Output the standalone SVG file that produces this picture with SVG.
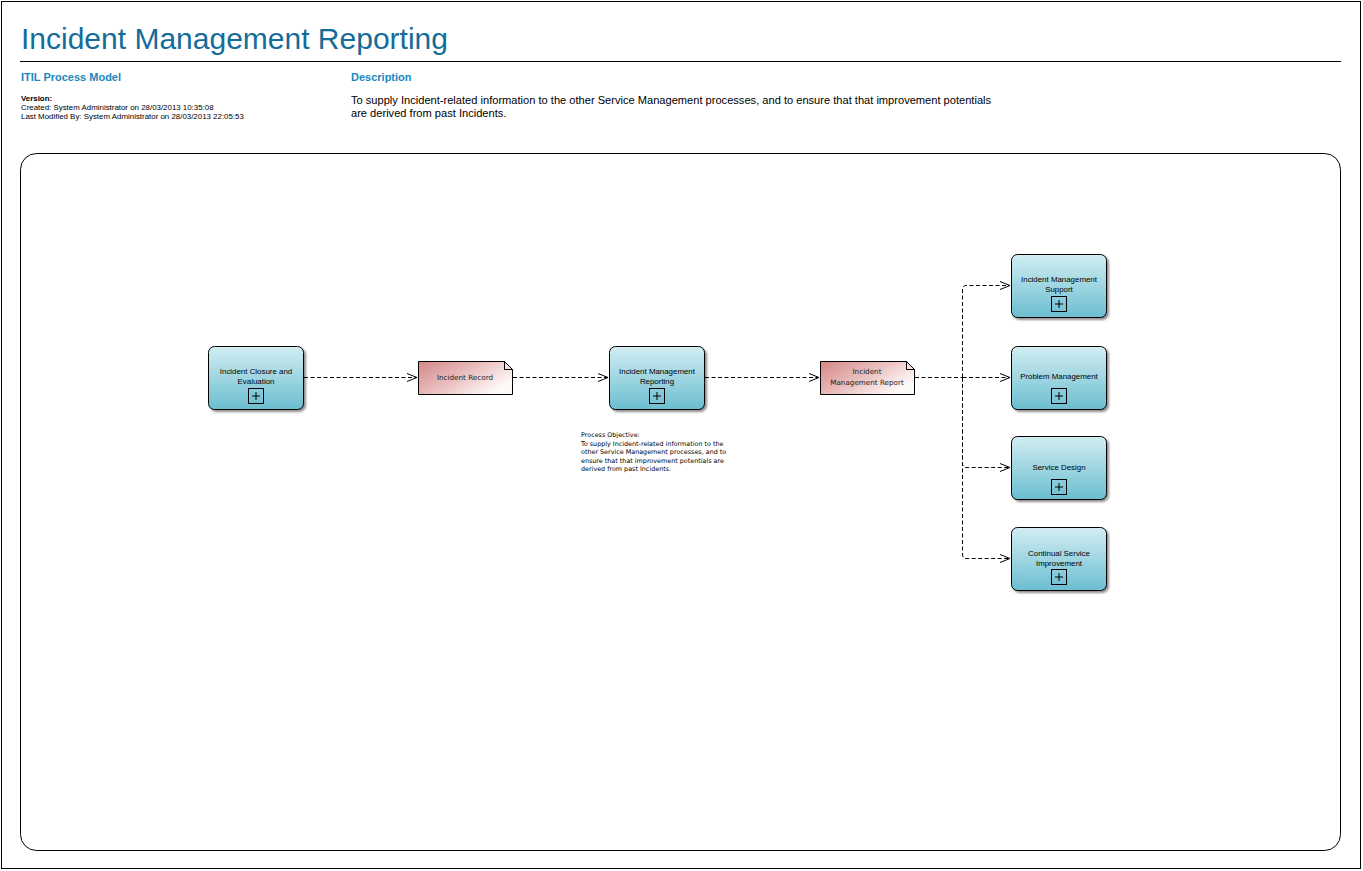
<svg xmlns="http://www.w3.org/2000/svg" width="1363" height="871" viewBox="0 0 1363 871">
  <defs>
    <linearGradient id="procFill" x1="0" y1="0" x2="0" y2="1">
      <stop offset="0" stop-color="#d2edf2"/>
      <stop offset="1" stop-color="#6bbed1"/>
    </linearGradient>
    <linearGradient id="dataFill" x1="0" y1="0" x2="1" y2="0.6">
      <stop offset="0" stop-color="#d48686"/>
      <stop offset="0.55" stop-color="#ebc2c2"/>
      <stop offset="1" stop-color="#fffafa"/>
    </linearGradient>
    <marker id="openArrow" markerWidth="12" markerHeight="10" refX="11" refY="5" orient="auto" markerUnits="userSpaceOnUse">
      <path d="M1,1 L11,5 L1,9" fill="none" stroke="#000" stroke-width="1"/>
    </marker>
    <filter id="shadow" x="-10%" y="-10%" width="130%" height="130%">
      <feGaussianBlur in="SourceAlpha" stdDeviation="1.2"/>
      <feOffset dx="2" dy="2" result="b"/>
      <feComponentTransfer><feFuncA type="linear" slope="0.45"/></feComponentTransfer>
      <feMerge><feMergeNode/><feMergeNode in="SourceGraphic"/></feMerge>
    </filter>
  </defs>
  <style>
    .hdr { font-family: "Liberation Sans", Arial, sans-serif; }
    .title { font-size: 30px; fill: #146c99; }
    .sub { font-size: 11px; font-weight: bold; fill: #1a87bd; }
    .meta { font-size: 7.9px; fill: #000; }
    .desc { font-size: 11.1px; fill: #000; }
    .proc { fill: url(#procFill); stroke: #000; stroke-width: 1; filter: url(#shadow); }
    .data { fill: url(#dataFill); stroke: #000; stroke-width: 1; }
    .fold { fill: #f3e0e0; stroke: #000; stroke-width: 1; }
    .plus { fill: none; stroke: #000; stroke-width: 1; }
    .lbl { font-family: "Liberation Sans", Arial, sans-serif; font-size: 7.9px; fill: #000; text-anchor: middle; }
    .dlbl { font-family: "DejaVu Sans", "Liberation Sans", sans-serif; font-size: 7.2px; fill: #222; text-anchor: middle; }
    .note { font-family: "DejaVu Sans", "Liberation Sans", sans-serif; font-size: 6.4px; fill: #000; }
    .conn { fill: none; stroke: #000; stroke-width: 1; stroke-dasharray: 4 2.5; }
  </style>

  <rect x="0" y="0" width="1363" height="871" fill="#fff"/>
  <rect x="1.5" y="1.5" width="1359" height="867" fill="none" stroke="#000" stroke-width="1"/>

  <!-- header -->
  <g id="header" class="hdr">
    <text x="21" y="49" class="title hdr">Incident Management Reporting</text>
    <line x1="20" y1="61.5" x2="1341" y2="61.5" stroke="#000" stroke-width="1"/>
    <text x="21" y="81" class="sub hdr">ITIL Process Model</text>
    <text x="21" y="101" class="meta hdr" font-weight="bold">Version:</text>
    <text x="21" y="110" class="meta hdr">Created: System Administrator on 28/03/2013 10:35:08</text>
    <text x="21" y="119" class="meta hdr">Last Modified By: System Administrator on 28/03/2013 22:05:53</text>
    <text x="351" y="81" class="sub hdr">Description</text>
    <text x="351" y="104" class="desc hdr">To supply Incident-related information to the other Service Management processes, and to ensure that that improvement potentials</text>
    <text x="351" y="117" class="desc hdr">are derived from past Incidents.</text>
  </g>

  <!-- diagram frame -->
  <rect id="frame" x="20.5" y="153.5" width="1320" height="697" rx="16" ry="16" fill="none" stroke="#000" stroke-width="1"/>

  <!-- connectors -->
  <g id="connectors">
    <path class="conn" d="M304,377.5 H417" marker-end="url(#openArrow)"/>
    <path class="conn" d="M513,377.5 H608" marker-end="url(#openArrow)"/>
    <path class="conn" d="M705,377.5 H819" marker-end="url(#openArrow)"/>
    <path class="conn" d="M915,377.5 H962.5"/>
    <path class="conn" d="M962.5,377.5 V289 Q962.5,285.5 966,285.5 H1010" marker-end="url(#openArrow)"/>
    <path class="conn" d="M962.5,377.5 H1010" marker-end="url(#openArrow)"/>
    <path class="conn" d="M962.5,377.5 V463 Q962.5,467.5 966,467.5 H1010" marker-end="url(#openArrow)"/>
    <path class="conn" d="M962.5,377.5 V554 Q962.5,558.5 966,558.5 H1010" marker-end="url(#openArrow)"/>
  </g>

  <!-- process nodes -->
  <g id="node-closure">
    <rect class="proc" x="208.5" y="346.5" width="95" height="63" rx="6" ry="6"/>
    <text class="lbl" x="256" y="374">Incident Closure and</text>
    <text class="lbl" x="256" y="384">Evaluation</text>
    <rect class="plus" x="248.5" y="388.5" width="15" height="15"/>
    <path d="M252,396 H260 M256,392 V400" stroke="#000" stroke-width="1"/>
  </g>

  <g id="node-incident-record">
    <path class="data" d="M418.5,361.5 H504.5 L512.5,369.5 V394.5 H418.5 Z"/>
    <path class="fold" d="M504.5,361.5 V369.5 H512.5 Z"/>
    <text class="dlbl" x="465" y="380">Incident Record</text>
  </g>

  <g id="node-reporting">
    <rect class="proc" x="609.5" y="346.5" width="95" height="63" rx="6" ry="6"/>
    <text class="lbl" x="657" y="374">Incident Management</text>
    <text class="lbl" x="657" y="384">Reporting</text>
    <rect class="plus" x="649.5" y="388.5" width="15" height="15"/>
    <path d="M653,396 H661 M657,392 V400" stroke="#000" stroke-width="1"/>
  </g>

  <g id="note-objective">
    <text class="note" x="581" y="437">Process Objective:</text>
    <text class="note" x="581" y="445.5">To supply Incident-related information to the</text>
    <text class="note" x="581" y="454">other Service Management processes, and to</text>
    <text class="note" x="581" y="462.5">ensure that that improvement potentials are</text>
    <text class="note" x="581" y="471">derived from past Incidents.</text>
  </g>

  <g id="node-report">
    <path class="data" d="M820.5,361.5 H906.5 L914.5,369.5 V394.5 H820.5 Z"/>
    <path class="fold" d="M906.5,361.5 V369.5 H914.5 Z"/>
    <text class="dlbl" x="867" y="374">Incident</text>
    <text class="dlbl" x="867" y="385">Management Report</text>
  </g>

  <g id="node-im-support">
    <rect class="proc" x="1011.5" y="254.5" width="95" height="63" rx="6" ry="6"/>
    <text class="lbl" x="1059" y="282">Incident Management</text>
    <text class="lbl" x="1059" y="292">Support</text>
    <rect class="plus" x="1051.5" y="296.5" width="15" height="15"/>
    <path d="M1055,304 H1063 M1059,300 V308" stroke="#000" stroke-width="1"/>
  </g>

  <g id="node-problem">
    <rect class="proc" x="1011.5" y="346.5" width="95" height="63" rx="6" ry="6"/>
    <text class="lbl" x="1059" y="379">Problem Management</text>
    <rect class="plus" x="1051.5" y="388.5" width="15" height="15"/>
    <path d="M1055,396 H1063 M1059,392 V400" stroke="#000" stroke-width="1"/>
  </g>

  <g id="node-service-design">
    <rect class="proc" x="1011.5" y="436.5" width="95" height="63" rx="6" ry="6"/>
    <text class="lbl" x="1059" y="470">Service Design</text>
    <rect class="plus" x="1051.5" y="479.5" width="15" height="15"/>
    <path d="M1055,487 H1063 M1059,483 V491" stroke="#000" stroke-width="1"/>
  </g>

  <g id="node-csi">
    <rect class="proc" x="1011.5" y="527.5" width="95" height="63" rx="6" ry="6"/>
    <text class="lbl" x="1059" y="556">Continual Service</text>
    <text class="lbl" x="1059" y="566">Improvement</text>
    <rect class="plus" x="1051.5" y="569.5" width="15" height="15"/>
    <path d="M1055,577 H1063 M1059,573 V581" stroke="#000" stroke-width="1"/>
  </g>
</svg>
